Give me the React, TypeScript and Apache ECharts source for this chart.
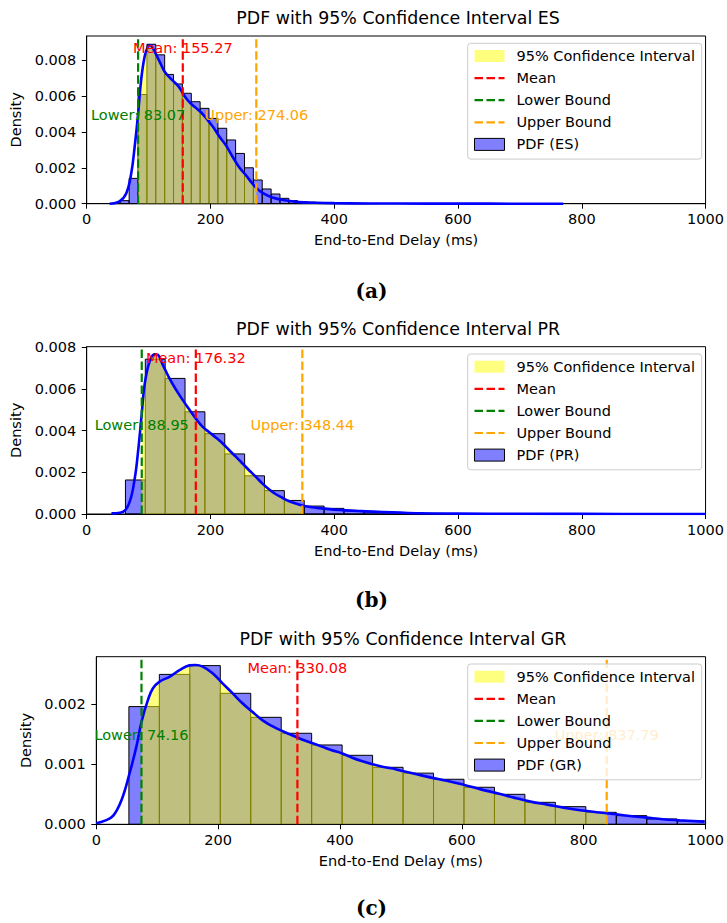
import React, { useEffect, useRef } from 'react';
import * as echarts from 'echarts';

const FONT = 'DejaVu Sans';
const FS = 14.5;

const xTicks = [0, 200, 400, 600, 800, 1000];
const legendNames = ['95% Confidence Interval', 'Mean', 'Lower Bound', 'Upper Bound'];
const captions = ['(a)', '(b)', '(c)'];

// ---------- Panel (a): ES ----------
const esTitle = 'PDF with 95% Confidence Interval ES';
const esPdfName = 'PDF (ES)';
const esBinEdges = [40.0, 54.3, 68.6, 83.0, 97.3, 111.6, 126.0, 140.3, 154.6, 169.0, 183.3, 197.6, 212.0, 226.3, 240.6, 255.0, 269.3, 283.6, 298.0, 312.3, 326.6, 341.0, 355.3, 369.6, 384.0, 398.3, 412.6, 427.0, 441.3, 455.6, 470.0];
const esBinHeights = [0.00003, 0.00017, 0.00141, 0.00608, 0.00888, 0.00829, 0.0072, 0.00667, 0.00615, 0.00568, 0.00531, 0.00475, 0.0042, 0.00355, 0.0028, 0.002, 0.00132, 0.00082, 0.00054, 0.0003, 0.00017, 0.00012, 0.00009, 0.00007, 0.00005, 0.00004, 0.00003, 0.00002, 0.00002, 0.00001];
const esKdeX = [37, 53, 64, 72, 77.6, 83.07, 88, 93.6, 99, 103, 110, 118, 126, 137, 148, 155.27, 160, 167, 176, 185, 194, 204, 214, 225, 236, 246, 257, 267, 274.06, 284, 300, 320, 342, 370, 400, 450, 500, 600, 700, 770];
const esKdeY = [0, 0.00013, 0.00058, 0.0017, 0.0032, 0.005, 0.0069, 0.0082, 0.00875, 0.00882, 0.00845, 0.0079, 0.00735, 0.00692, 0.00655, 0.00615, 0.0059, 0.00562, 0.00535, 0.00508, 0.00472, 0.00428, 0.00375, 0.00325, 0.0026, 0.00205, 0.0016, 0.00115, 0.00088, 0.0006, 0.00035, 0.00019, 0.00009, 0.00005, 0.00003, 0.000015, 0.000008, 0.000003, 0.000001, 0];
const esStats = [83.07, 155.27, 274.06]; // lower, mean, upper
const esYMax = 0.00934;
const esYTicks = [0, 0.002, 0.004, 0.006, 0.008];

// ---------- Panel (b): PR ----------
const prTitle = 'PDF with 95% Confidence Interval PR';
const prPdfName = 'PDF (PR)';
const prBinEdges = [62.6, 94.7, 126.8, 158.9, 191.0, 223.1, 255.2, 287.3, 319.4, 351.5, 383.6, 415.7, 447.8, 479.9, 512.0, 544.1, 576.2, 608.3];
const prBinHeights = [0.00163, 0.00742, 0.0065, 0.0049, 0.00385, 0.00288, 0.00183, 0.00112, 0.00065, 0.00038, 0.00027, 0.00016, 0.0001, 0.00007, 0.00005, 0.00003, 0.00002];
const prKdeX = [40, 59, 69.5, 77.6, 83, 88.95, 93.6, 101.6, 109.7, 115, 123, 133.7, 144.5, 155, 166, 176.6, 187, 198, 209, 219.4, 230, 241, 251.5, 262, 273, 283.6, 294, 305, 316, 326.5, 342.5, 348.44, 358.5, 375, 400, 444, 519, 600, 700, 800, 1000];
const prKdeY = [0.00003, 0.00011, 0.00059, 0.0017, 0.003, 0.0048, 0.0062, 0.0073, 0.00766, 0.00763, 0.00715, 0.0065, 0.00595, 0.00547, 0.005, 0.00456, 0.00419, 0.00392, 0.00366, 0.00339, 0.00307, 0.00275, 0.00243, 0.00211, 0.00179, 0.00147, 0.0012, 0.00096, 0.00078, 0.00062, 0.00046, 0.00041, 0.00035, 0.00028, 0.00021, 0.00014, 0.00005, 0.00002, 0.00001, 0.000005, 0];
const prStats = [88.95, 176.32, 348.44];
const prYMax = 0.00802;
const prYTicks = [0, 0.002, 0.004, 0.006, 0.008];

// ---------- Panel (c): GR ----------
const grTitle = 'PDF with 95% Confidence Interval GR';
const grPdfName = 'PDF (GR)';
const grBinEdges = [53.5, 103.5, 153.5, 203.5, 253.5, 303.5, 353.5, 403.5, 453.5, 503.5, 553.5, 603.5, 653.5, 703.5, 753.5, 803.5, 853.5, 903.5, 953.5, 1003.5];
const grBinHeights = [0.001955, 0.00249, 0.002636, 0.002176, 0.001777, 0.001512, 0.001318, 0.001146, 0.000947, 0.00085, 0.000748, 0.000615, 0.000498, 0.000365, 0.000293, 0.000199, 0.000144, 0.0000886, 0.0000554];
const grKdeX = [0, 14.2, 27.8, 41.4, 53.9, 65.8, 74.16, 84.9, 93, 103.9, 120.2, 136.5, 152.8, 162.6, 174.6, 190.9, 207.2, 223.5, 239.8, 256.1, 272.4, 288.7, 305, 321.3, 337.6, 353.9, 370.2, 386.5, 402.8, 419.1, 435.4, 451.7, 468, 484.3, 500.6, 522.4, 549.6, 576.8, 604, 631.2, 658.3, 685.5, 712.7, 739.9, 767, 794.2, 821.4, 837.79, 848.6, 875.7, 902.9, 930.1, 957.2, 998];
const grKdeY = [0.000017, 0.00006, 0.000144, 0.000404, 0.00082, 0.00129, 0.0017, 0.00207, 0.00226, 0.00237, 0.00245, 0.00256, 0.00264, 0.002647, 0.00262, 0.00251, 0.00234, 0.00218, 0.00201, 0.00187, 0.00173, 0.00163, 0.00155, 0.00148, 0.00141, 0.00135, 0.00129, 0.00123, 0.00118, 0.00111, 0.00105, 0.001, 0.00096, 0.00093, 0.00089, 0.00084, 0.000775, 0.00072, 0.000653, 0.00058, 0.000515, 0.000443, 0.000377, 0.000327, 0.000277, 0.000233, 0.0002, 0.000185, 0.000172, 0.000138, 0.000111, 0.000083, 0.000066, 0.000044];
const grStats = [74.16, 330.08, 837.79];
const grYMax = 0.002784;
const grYTicks = [0, 0.001, 0.002];

type Panel = {
  title: string; pdfName: string; edges: number[]; heights: number[];
  kdeX: number[]; kdeY: number[]; stats: number[]; yMax: number; yTicks: number[];
  left: number; top: number; bottom: number; captionY: number;
};

const RIGHT = 709.5;

const panels: Panel[] = [
  { title: esTitle, pdfName: esPdfName, edges: esBinEdges, heights: esBinHeights, kdeX: esKdeX, kdeY: esKdeY, stats: esStats, yMax: esYMax, yTicks: esYTicks, left: 86.7, top: 36, bottom: 203.7, captionY: 291 },
  { title: prTitle, pdfName: prPdfName, edges: prBinEdges, heights: prBinHeights, kdeX: prKdeX, kdeY: prKdeY, stats: prStats, yMax: prYMax, yTicks: prYTicks, left: 86.7, top: 346.7, bottom: 514, captionY: 600 },
  { title: grTitle, pdfName: grPdfName, edges: grBinEdges, heights: grBinHeights, kdeX: grKdeX, kdeY: grKdeY, stats: grStats, yMax: grYMax, yTicks: grYTicks, left: 96.3, top: 656.7, bottom: 824.3, captionY: 908 },
];

const statColors = ['#008000', '#ff0000', '#ffa500'];
const statPrefixes = ['Lower', 'Mean', 'Upper'];
const statSeriesNames = ['Lower Bound', 'Mean', 'Upper Bound'];
const DASH = [8.5, 3.5];

function buildOption() {
  const grid: any[] = [];
  const xAxis: any[] = [];
  const yAxis: any[] = [];
  const title: any[] = [];
  const legend: any[] = [];
  const series: any[] = [];
  const graphic: any[] = [];

  panels.forEach((p, i) => {
    grid.push({
      left: p.left, top: p.top, width: RIGHT - p.left, height: p.bottom - p.top,
      show: true, borderColor: '#000', borderWidth: 1, backgroundColor: 'transparent',
    });
    xAxis.push({
      type: 'value', gridIndex: i, min: xTicks[0], max: xTicks[xTicks.length - 1], interval: 200,
      name: 'End-to-End Delay (ms)', nameLocation: 'middle', nameGap: 29,
      nameTextStyle: { fontFamily: FONT, fontSize: FS, color: '#000' },
      axisLine: { show: true, lineStyle: { color: '#000', width: 1 } },
      axisTick: { show: true, length: 5, lineStyle: { color: '#000' } },
      axisLabel: { fontFamily: FONT, fontSize: FS, color: '#000', margin: 8, formatter: (v: number) => String(v) },
      splitLine: { show: false },
    });
    yAxis.push({
      type: 'value', gridIndex: i, min: 0, max: p.yMax,
      name: 'Density', nameLocation: 'middle', nameGap: 54,
      nameTextStyle: { fontFamily: FONT, fontSize: FS, color: '#000' },
      axisLine: { show: true, lineStyle: { color: '#000', width: 1 } },
      axisTick: { show: true, length: 5, lineStyle: { color: '#000' }, customValues: p.yTicks },
      axisLabel: { fontFamily: FONT, fontSize: FS, color: '#000', margin: 10.5, customValues: p.yTicks, formatter: (v: number) => v.toFixed(3) },
      splitLine: { show: false },
    });
    title.push({
      text: p.title, left: (p.left + RIGHT) / 2, top: p.top - 26.5, textAlign: 'center', padding: 0,
      textStyle: { fontFamily: FONT, fontSize: 17.4, fontWeight: 'normal', color: '#000' },
    });

    // histogram
    const histData = p.heights.map((h, k) => [p.edges[k], p.edges[k + 1], h]);
    series.push({
      type: 'custom', name: p.pdfName, xAxisIndex: i, yAxisIndex: i, z: 1,
      itemStyle: { color: 'rgba(0,0,255,0.5)', borderColor: '#000', borderWidth: 1 },
      encode: { x: [0, 1], y: 2 },
      data: histData,
      renderItem: (params: any, api: any) => {
        const x0 = api.value(0);
        const x1 = Math.min(api.value(1), 1000);
        const h = api.value(2);
        const a = api.coord([x0, h]);
        const b = api.coord([x1, 0]);
        return {
          type: 'rect',
          shape: { x: a[0], y: a[1], width: b[0] - a[0], height: b[1] - a[1] },
          style: { fill: 'rgba(0,0,255,0.5)', stroke: '#000', lineWidth: 1 },
        };
      },
    });

    // confidence interval fill under KDE
    const kde = p.kdeX.map((x, k) => [x, p.kdeY[k]]);
    const ci = kde.filter(d => d[0] >= p.stats[0] && d[0] <= p.stats[2]);
    series.push({
      type: 'line', name: legendNames[0], xAxisIndex: i, yAxisIndex: i, z: 2,
      data: ci, showSymbol: false, symbol: 'none', smooth: 0.4,
      color: 'rgba(255,255,0,0.5)',
      lineStyle: { width: 0, opacity: 0 },
      areaStyle: { color: 'rgba(255,255,0,0.5)', opacity: 1 },
      silent: true,
    });
    // KDE line
    series.push({
      type: 'line', name: 'KDE ' + p.pdfName, xAxisIndex: i, yAxisIndex: i, z: 3,
      data: kde, showSymbol: false, symbol: 'none', smooth: 0.4,
      lineStyle: { color: '#0000ff', width: 2.6 }, silent: true,
    });
    // vertical lines
    p.stats.forEach((v, k) => {
      series.push({
        type: 'line', name: statSeriesNames[k], xAxisIndex: i, yAxisIndex: i, z: 4,
        data: [[v, 0], [v, p.yMax]], showSymbol: false, symbol: 'none',
        color: statColors[k],
        lineStyle: { color: statColors[k], width: 2.2, type: DASH }, silent: true,
      });
    });
    // text labels
    const labelData = p.stats.map((v, k) => [v, p.yMax * (k === 1 ? 0.93 : 0.53)]);
    const labelTexts = p.stats.map((v, k) => `${statPrefixes[k]}: ${v.toFixed(2)}`);
    series.push({
      type: 'custom', name: 'labels ' + p.pdfName, xAxisIndex: i, yAxisIndex: i, z: 5,
      encode: { x: 0, y: 1 }, data: labelData, silent: true,
      renderItem: (params: any, api: any) => {
        const c = api.coord([api.value(0), api.value(1)]);
        const k = params.dataIndex;
        return {
          type: 'text', x: c[0], y: c[1],
          style: { text: labelTexts[k], fill: statColors[k], fontFamily: FONT, fontSize: FS, align: 'center', verticalAlign: 'middle' },
        };
      },
    });

    const lineLegend = (name: string, color: string) => ({
      name, itemStyle: { opacity: 0 },
      lineStyle: { color, width: 2.2, type: DASH },
    });
    legend.push({
      orient: 'vertical', right: 727 - 701.7, top: p.top + 7.3,
      itemWidth: 30, itemHeight: 12, itemGap: 7.1,
      padding: [5.2, 6.7, 7.2, 5.7],
      backgroundColor: 'rgba(255,255,255,0.8)', borderColor: '#cccccc', borderWidth: 1, borderRadius: 3,
      textStyle: { fontFamily: FONT, fontSize: FS, color: '#000', padding: [0, 0, 0, 7] },
      selectedMode: false, z: 20,
      data: [
        { name: legendNames[0], icon: 'rect', itemStyle: { color: 'rgba(255,255,0,0.5)', borderWidth: 0 } },
        lineLegend(legendNames[1], '#ff0000'),
        lineLegend(legendNames[2], '#008000'),
        lineLegend(legendNames[3], '#ffa500'),
        { name: p.pdfName, icon: 'rect', itemStyle: { color: 'rgba(0,0,255,0.5)', borderColor: '#000', borderWidth: 1 } },
      ],
    });

    graphic.push({
      type: 'text', x: 371.5, y: p.captionY, z: 10,
      style: { text: captions[i], fill: '#000', fontFamily: 'DejaVu Serif', fontWeight: 'bold', fontSize: 20, align: 'center', verticalAlign: 'middle' },
    });
  });

  return { animation: false, backgroundColor: '#fff', grid, xAxis, yAxis, title, legend, series, graphic };
}

export default function App() {
  const ref = useRef<HTMLDivElement>(null);
  useEffect(() => {
    if (!ref.current) return;
    const chart = echarts.init(ref.current, undefined, { renderer: 'svg' });
    chart.setOption(buildOption() as any);
    return () => chart.dispose();
  }, []);
  return <div ref={ref} style={{ position: 'absolute', left: 0, top: 0, width: 727, height: 923, background: '#fff' }} />;
}
